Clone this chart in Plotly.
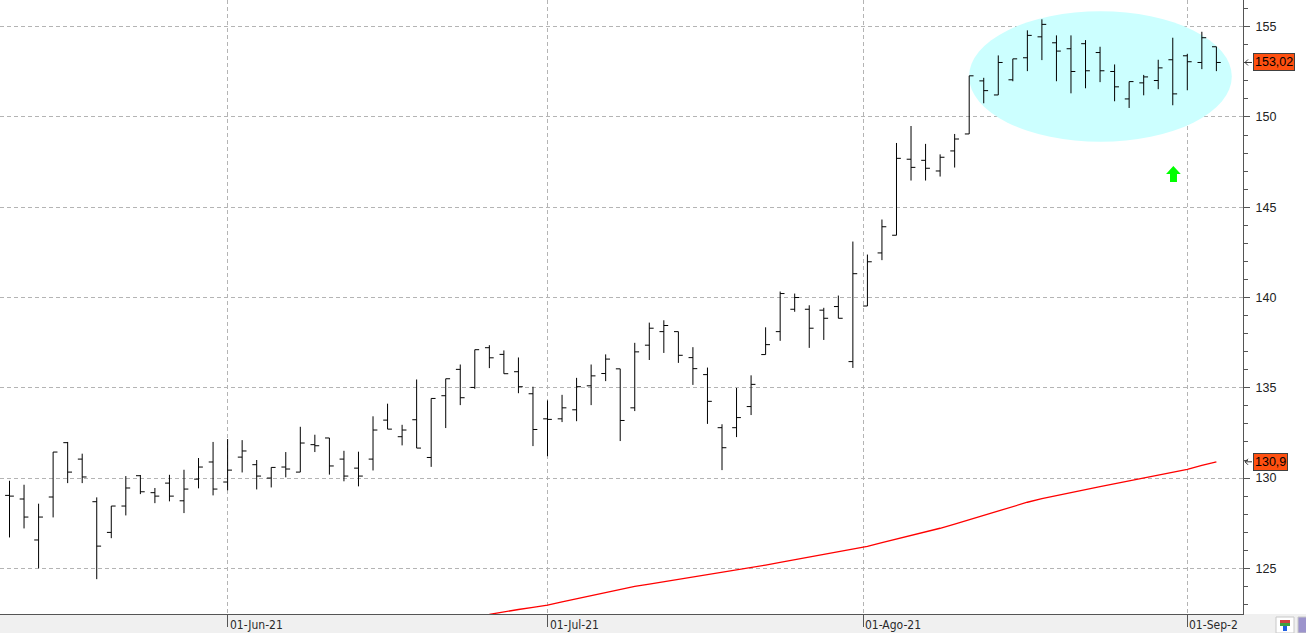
import plotly.graph_objects as go

# ---------------- data ----------------
bar_index = list(range(84))
open_ = [129.04, 128.84, 126.57, 128.95, 131.96, 131.05, 128.69, 126.99, 128.45, 130.13,
         129.19, 129.72, 128.74, 129.94, 130.89, 129.78, 131.16, 130.74, 130.00, 130.61,
         130.33, 131.85, 132.22, 131.05, 130.55, 131.05, 133.21, 132.29, 133.23, 131.14,
         134.56, 136.02, 135.02, 137.22, 136.85, 135.89, 134.67, 133.28, 133.28, 133.78,
         135.11, 135.79, 136.05, 133.89, 137.36, 138.11, 138.11, 136.67, 135.73, 132.79,
         132.79, 133.96, 136.84, 138.11, 139.35, 139.35, 139.30, 139.50, 136.45, 139.53,
         142.47, 143.45, 147.66, 147.60, 147.01, 148.12, 149.06, 152.00, 151.22, 152.06,
         153.28, 154.44, 154.11, 153.78, 154.06, 153.57, 152.52, 151.00, 151.89, 152.02,
         153.17, 153.39, 153.02, 153.89]
high = [129.85, 129.63, 128.58, 131.44, 132.00, 131.35, 128.93, 128.45, 130.11, 130.17,
        129.45, 130.18, 130.46, 131.11, 132.00, 132.16, 132.10, 131.00, 130.59, 131.44,
        132.84, 132.40, 132.22, 131.51, 131.46, 133.42, 134.12, 132.95, 135.46, 134.41,
        135.50, 136.29, 137.11, 137.36, 137.07, 136.68, 135.06, 134.30, 134.61, 135.55,
        136.29, 136.85, 136.05, 137.49, 138.61, 138.74, 138.11, 137.25, 136.12, 132.98,
        134.99, 135.69, 138.35, 140.33, 140.22, 139.57, 139.43, 140.11, 143.10, 142.38,
        144.32, 148.56, 149.50, 148.51, 147.93, 149.06, 152.28, 152.17, 153.41, 153.22,
        154.80, 155.41, 154.52, 154.52, 154.26, 153.89, 152.91, 151.96, 152.33, 153.17,
        154.39, 153.50, 154.72, 153.89]
low = [126.71, 127.21, 125.00, 127.82, 129.72, 129.72, 124.40, 126.67, 127.93, 129.11,
       128.61, 128.71, 128.06, 129.43, 129.04, 129.32, 130.31, 129.37, 129.48, 130.04,
       130.33, 131.44, 130.19, 129.82, 129.54, 130.42, 132.71, 131.81, 131.66, 130.62,
       132.77, 134.04, 134.94, 136.09, 135.78, 134.70, 131.77, 131.21, 133.10, 133.15,
       134.04, 135.37, 132.05, 133.71, 136.54, 136.93, 136.38, 135.16, 133.00, 130.44,
       132.27, 133.49, 136.84, 137.60, 139.21, 137.21, 137.65, 138.85, 136.10, 139.53,
       142.07, 143.45, 146.48, 146.48, 146.70, 147.20, 149.06, 150.76, 151.22, 151.98,
       152.54, 153.15, 151.98, 151.31, 151.59, 151.93, 150.87, 150.50, 151.20, 151.54,
       150.65, 151.48, 152.65, 152.54]
close = [129.00, 127.84, 127.84, 131.44, 130.33, 130.06, 126.23, 128.45, 129.45, 129.24,
         129.00, 129.00, 129.39, 130.61, 129.39, 130.44, 131.50, 130.11, 130.59, 130.50,
         131.94, 131.79, 130.67, 130.11, 130.11, 132.66, 132.71, 132.66, 131.66, 134.41,
         135.50, 134.45, 137.11, 136.66, 135.78, 135.06, 132.69, 133.25, 133.89, 135.06,
         135.66, 136.59, 133.19, 136.99, 138.30, 138.45, 136.80, 136.06, 134.25, 131.68,
         133.35, 135.19, 137.39, 140.22, 140.00, 138.30, 138.85, 138.85, 141.32, 141.98,
         143.92, 147.71, 147.21, 147.16, 147.77, 148.78, 152.28, 151.46, 153.02, 153.22,
         154.52, 155.13, 153.65, 152.52, 152.56, 152.56, 151.67, 151.96, 152.22, 152.72,
         151.28, 153.06, 154.39, 153.02]

ma_index = list(range(33, 84))
ma_values = [122.45, 122.60, 122.72, 122.84, 122.96, 123.14, 123.32, 123.50, 123.68,
             123.86, 124.00, 124.13, 124.26, 124.39, 124.52, 124.64, 124.76, 124.90, 125.04,
             125.18, 125.33, 125.48, 125.63, 125.78, 125.90, 126.05, 126.22, 126.42, 126.62,
             126.82, 127.00, 127.22, 127.45, 127.70, 127.95, 128.20, 128.44, 128.66, 128.86,
             129.04, 129.20, 129.36, 129.52, 129.68, 129.85, 130.02, 130.18, 130.34, 130.48,
             130.70, 130.90]

date_tick_positions = [15, 37, 58.7, 81]
date_tick_labels = ["01-Jun-21", "01-Jul-21", "01-Ago-21", "01-Sep-2"]
price_ticks = [125, 130, 135, 140, 145, 150, 155]
last_close_text = "153,02"
ma_last_text = "130,9"

# decorations (user-drawn marks in the original)
ellipse_box = dict(x0=65.99, x1=84.06, y0=148.63, y1=155.85)
arrow_pts = [(80.04, 147.29), (80.55, 146.84), (80.29, 146.84), (80.29, 146.40),
             (79.81, 146.40), (79.81, 146.84), (79.54, 146.84)]

# ---------------- layout geometry ----------------
W, H = 1306, 633
M_L, M_R, M_T, M_B = 0, 63, 0, 19
PW = W - M_L - M_R
PH = H - M_T - M_B
X_RANGE = [-0.653, 84.83]
Y_RANGE = [122.47, 156.48]
Y_PER_PX = (Y_RANGE[1] - Y_RANGE[0]) / PH

GRID = "#b4b4b4"
AXIS = "#555555"

fig = go.Figure()

fig.add_trace(go.Ohlc(
    x=bar_index, open=open_, high=high, low=low, close=close,
    increasing=dict(line=dict(color="black", width=1)),
    decreasing=dict(line=dict(color="black", width=1)),
    tickwidth=0.3, hoverinfo="skip", showlegend=False,
))

fig.add_trace(go.Scatter(
    x=ma_index, y=ma_values, mode="lines",
    line=dict(color="#ff0000", width=1.3), hoverinfo="skip", showlegend=False,
))

# ellipse highlight
fig.add_shape(type="circle", xref="x", yref="y", layer="between",
              fillcolor="#ccffff", line=dict(width=0), **ellipse_box)

# green arrow
path = "M " + " L ".join(f"{x},{y}" for x, y in arrow_pts) + " Z"
fig.add_shape(type="path", xref="x", yref="y", path=path,
              fillcolor="#00ff00", line=dict(width=0), layer="above")

# bottom gray strip
fig.add_shape(type="rect", xref="paper", yref="paper",
              x0=-0.01, x1=(W + 5) / PW, y0=-(M_B + 2) / PH, y1=0,
              fillcolor="#f0f0f0", line=dict(width=0), layer="below")

# date labels (left aligned next to their tick)
for pos, lab in zip(date_tick_positions, date_tick_labels):
    fig.add_annotation(x=pos, xref="x", y=0, yref="paper", text=lab,
                       showarrow=False, xanchor="left", yanchor="top",
                       xshift=0, yshift=-2,
                       font=dict(family="Liberation Sans Narrow, DejaVu Sans Condensed, DejaVu Sans Mono",
                                 size=12, color="#2a2a2a"))


def px_x(p):
    return (p - M_L) / PW


# price labels on the right, with a small pointer arrow
for val, txt in [(close[-1], last_close_text), (ma_values[-1], ma_last_text)]:
    fig.add_annotation(x=px_x(1253), xref="paper", y=val, yref="y", text=txt,
                       showarrow=False, xanchor="left", yanchor="middle",
                       bgcolor="#ff5010", bordercolor="#404040", borderwidth=1,
                       borderpad=1, font=dict(family="Arial", size=12.5, color="#000000"))
    d = 3 * Y_PER_PX
    arrow_path = (f"M {px_x(1252)},{val} L {px_x(1245)},{val} "
                  f"M {px_x(1248)},{val + d} L {px_x(1245)},{val} L {px_x(1248)},{val - d}")
    fig.add_shape(type="path", xref="paper", yref="y", path=arrow_path,
                  line=dict(color="#333333", width=1), layer="above")

# small icons at bottom-right
fig.add_shape(type="rect", xref="paper", yref="paper",
              x0=px_x(1276), x1=px_x(1294), y0=-(633 - 614) / PH, y1=-(617 - 614) / PH,
              fillcolor="#ffffff", line=dict(color="#c8c8c8", width=1), layer="above")
fig.add_shape(type="rect", xref="paper", yref="paper",
              x0=px_x(1280), x1=px_x(1290), y0=-(623 - 614) / PH, y1=-(620 - 614) / PH,
              fillcolor="#d04040", line=dict(width=0), layer="above")
fig.add_shape(type="rect", xref="paper", yref="paper",
              x0=px_x(1280), x1=px_x(1290), y0=-(626 - 614) / PH, y1=-(623 - 614) / PH,
              fillcolor="#40a040", line=dict(width=0), layer="above")
fig.add_shape(type="rect", xref="paper", yref="paper",
              x0=px_x(1283), x1=px_x(1287), y0=-(631 - 614) / PH, y1=-(626 - 614) / PH,
              fillcolor="#2060e0", line=dict(width=0), layer="above")
fig.add_shape(type="rect", xref="paper", yref="paper",
              x0=px_x(1298), x1=px_x(1310), y0=-(633 - 614) / PH, y1=-(617 - 614) / PH,
              fillcolor="#9c94cc", line=dict(color="#c8c8c8", width=1), layer="above")

fig.update_layout(
    width=W, height=H,
    margin=dict(l=M_L, r=M_R, t=M_T, b=M_B, pad=0),
    paper_bgcolor="white", plot_bgcolor="white",
    showlegend=False, hovermode=False,
    xaxis=dict(
        range=X_RANGE, fixedrange=True,
        rangeslider=dict(visible=False),
        tickmode="array", tickvals=date_tick_positions, ticktext=[""] * len(date_tick_positions),
        ticks="outside", ticklen=12, tickcolor=AXIS, tickwidth=1,
        showgrid=True, gridcolor=GRID, griddash="4px,3px", gridwidth=1,
        showline=True, linecolor=AXIS, linewidth=1,
        zeroline=False,
    ),
    yaxis=dict(
        range=Y_RANGE, side="right", fixedrange=True,
        tickmode="array", tickvals=price_ticks, ticktext=[str(v) for v in price_ticks],
        ticks="outside", ticklen=6, tickcolor=AXIS, tickwidth=1,
        minor=dict(dtick=1, ticks="outside", ticklen=4, tickcolor=AXIS, showgrid=False),
        showgrid=True, gridcolor=GRID, griddash="4px,3px", gridwidth=1,
        showline=True, linecolor=AXIS, linewidth=1,
        zeroline=False,
        tickfont=dict(family="Arial", size=12.5, color="#222222"),
        ticklabelstandoff=3,
    ),
)

fig.write_html("out.html", config={"displayModeBar": False, "staticPlot": True})
